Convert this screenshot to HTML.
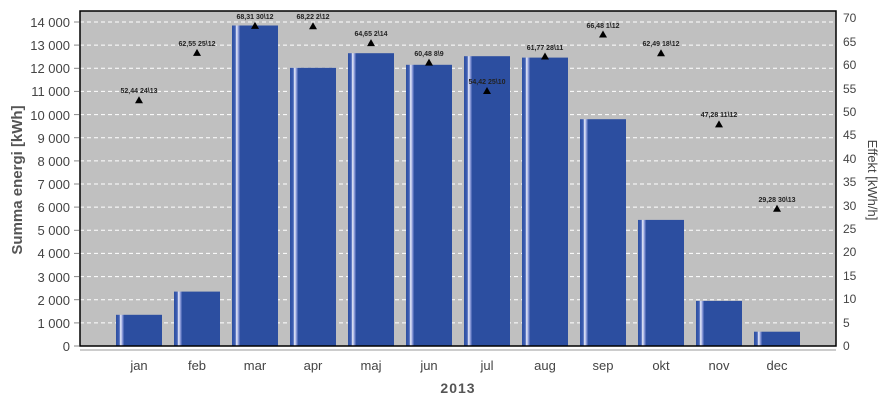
<!DOCTYPE html>
<html><head><meta charset="utf-8"><style>
html,body{margin:0;padding:0;background:#fff}
svg{display:block;font-family:"Liberation Sans",Arial,sans-serif}
</style></head><body>
<svg width="894" height="400" viewBox="0 0 894 400" xmlns="http://www.w3.org/2000/svg">
<defs>
<linearGradient id="bar" x1="0" x2="1" y1="0" y2="0">
<stop offset="0" stop-color="#2c4ea0"/>
<stop offset="0.07" stop-color="#4060b4"/>
<stop offset="0.1" stop-color="#eef0fc"/>
<stop offset="0.14" stop-color="#8898d8"/>
<stop offset="0.18" stop-color="#2c4ea0"/>
<stop offset="1" stop-color="#2c4ea0"/>
</linearGradient>
</defs>
<rect x="80" y="11" width="756" height="335" fill="#c0c0c0"/>
<g stroke="#fff" stroke-width="1" stroke-dasharray="4,3">
<line x1="80" x2="836" y1="322.9" y2="322.9"/><line x1="80" x2="836" y1="299.7" y2="299.7"/>
<line x1="80" x2="836" y1="276.6" y2="276.6"/><line x1="80" x2="836" y1="253.4" y2="253.4"/>
<line x1="80" x2="836" y1="230.3" y2="230.3"/><line x1="80" x2="836" y1="207.1" y2="207.1"/>
<line x1="80" x2="836" y1="184" y2="184"/><line x1="80" x2="836" y1="160.9" y2="160.9"/>
<line x1="80" x2="836" y1="137.7" y2="137.7"/><line x1="80" x2="836" y1="114.6" y2="114.6"/>
<line x1="80" x2="836" y1="91.4" y2="91.4"/><line x1="80" x2="836" y1="68.3" y2="68.3"/>
<line x1="80" x2="836" y1="45.1" y2="45.1"/><line x1="80" x2="836" y1="22" y2="22"/>
</g>
<g fill="url(#bar)">
<rect x="116" y="314.8" width="46" height="31.2"/>
<rect x="174" y="291.6" width="46" height="54.4"/>
<rect x="232" y="25.5" width="46" height="320.5"/>
<rect x="290" y="67.8" width="46" height="278.2"/>
<rect x="348" y="53.2" width="46" height="292.8"/>
<rect x="406" y="64.8" width="46" height="281.2"/>
<rect x="464" y="56.2" width="46" height="289.8"/>
<rect x="522" y="57.6" width="46" height="288.4"/>
<rect x="580" y="119.2" width="46" height="226.8"/>
<rect x="638" y="219.9" width="46" height="126.1"/>
<rect x="696" y="300.9" width="46" height="45.1"/>
<rect x="754" y="331.7" width="46" height="14.3"/>
</g>
<g fill="#000">
<path d="M139,96.3 l4,7 h-8z"/><path d="M197,48.9 l4,7 h-8z"/><path d="M255,21.9 l4,7 h-8z"/>
<path d="M313,22.3 l4,7 h-8z"/><path d="M371,39.1 l4,7 h-8z"/><path d="M429,58.6 l4,7 h-8z"/>
<path d="M487,87 l4,7 h-8z"/><path d="M545,52.5 l4,7 h-8z"/><path d="M603,30.5 l4,7 h-8z"/>
<path d="M661,49.2 l4,7 h-8z"/><path d="M719,120.4 l4,7 h-8z"/><path d="M777,204.8 l4,7 h-8z"/>
</g>
<g font-size="7" fill="#222" text-anchor="middle" font-weight="bold">
<text x="139" y="93">52,44 24\13</text><text x="197" y="46">62,55 25\12</text>
<text x="255" y="19">68,31 30\12</text><text x="313" y="19">68,22 2\12</text>
<text x="371" y="36">64,65 2\14</text><text x="429" y="56">60,48 8\9</text>
<text x="487" y="84">54,42 25\10</text><text x="545" y="50">61,77 28\11</text>
<text x="603" y="28">66,48 1\12</text><text x="661" y="46">62,49 18\12</text>
<text x="719" y="117">47,28 11\12</text><text x="777" y="202">29,28 30\13</text>
</g>
<rect x="80" y="11" width="756" height="335" fill="none" stroke="#000" stroke-width="1.5"/>
<line x1="80" x2="836" y1="350" y2="350" stroke="#bbb" stroke-width="1.5"/>
<g stroke="#888" stroke-width="1">
<line x1="74" x2="79" y1="346" y2="346"/><line x1="74" x2="79" y1="322.9" y2="322.9"/><line x1="74" x2="79" y1="299.7" y2="299.7"/><line x1="74" x2="79" y1="276.6" y2="276.6"/><line x1="74" x2="79" y1="253.4" y2="253.4"/><line x1="74" x2="79" y1="230.3" y2="230.3"/><line x1="74" x2="79" y1="207.1" y2="207.1"/><line x1="74" x2="79" y1="184" y2="184"/><line x1="74" x2="79" y1="160.9" y2="160.9"/><line x1="74" x2="79" y1="137.7" y2="137.7"/><line x1="74" x2="79" y1="114.6" y2="114.6"/><line x1="74" x2="79" y1="91.4" y2="91.4"/><line x1="74" x2="79" y1="68.3" y2="68.3"/><line x1="74" x2="79" y1="45.1" y2="45.1"/><line x1="74" x2="79" y1="22" y2="22"/>
</g>
<g font-size="13" fill="#444" text-anchor="end">
<text x="70" y="351">0</text><text x="70" y="328">1 000</text><text x="70" y="305">2 000</text><text x="70" y="282">3 000</text><text x="70" y="258">4 000</text><text x="70" y="235">5 000</text><text x="70" y="212">6 000</text><text x="70" y="189">7 000</text><text x="70" y="166">8 000</text><text x="70" y="143">9 000</text><text x="70" y="120">10 000</text><text x="70" y="96">11 000</text><text x="70" y="73">12 000</text><text x="70" y="50">13 000</text><text x="70" y="27">14 000</text>
</g>
<g font-size="12" fill="#444">
<text x="843" y="350">0</text><text x="843" y="327">5</text><text x="843" y="303">10</text><text x="843" y="280">15</text><text x="843" y="256">20</text><text x="843" y="233">25</text><text x="843" y="210">30</text><text x="843" y="186">35</text><text x="843" y="163">40</text><text x="843" y="139">45</text><text x="843" y="116">50</text><text x="843" y="93">55</text><text x="843" y="69">60</text><text x="843" y="46">65</text><text x="843" y="22">70</text>
</g>
<g font-size="13" fill="#444" text-anchor="middle">
<text x="139" y="370">jan</text><text x="197" y="370">feb</text><text x="255" y="370">mar</text><text x="313" y="370">apr</text><text x="371" y="370">maj</text><text x="429" y="370">jun</text><text x="487" y="370">jul</text><text x="545" y="370">aug</text><text x="603" y="370">sep</text><text x="661" y="370">okt</text><text x="719" y="370">nov</text><text x="777" y="370">dec</text>
</g>
<text x="458" y="393" font-size="14" font-weight="bold" fill="#555" text-anchor="middle" letter-spacing="1">2013</text>
<text transform="translate(22,180) rotate(-90)" font-size="15" font-weight="bold" fill="#555" text-anchor="middle">Summa energi  [kWh]</text>
<text transform="translate(868,180) rotate(90)" font-size="13" fill="#444" text-anchor="middle">Effekt  [kWh/h]</text>
</svg>
</body></html>
